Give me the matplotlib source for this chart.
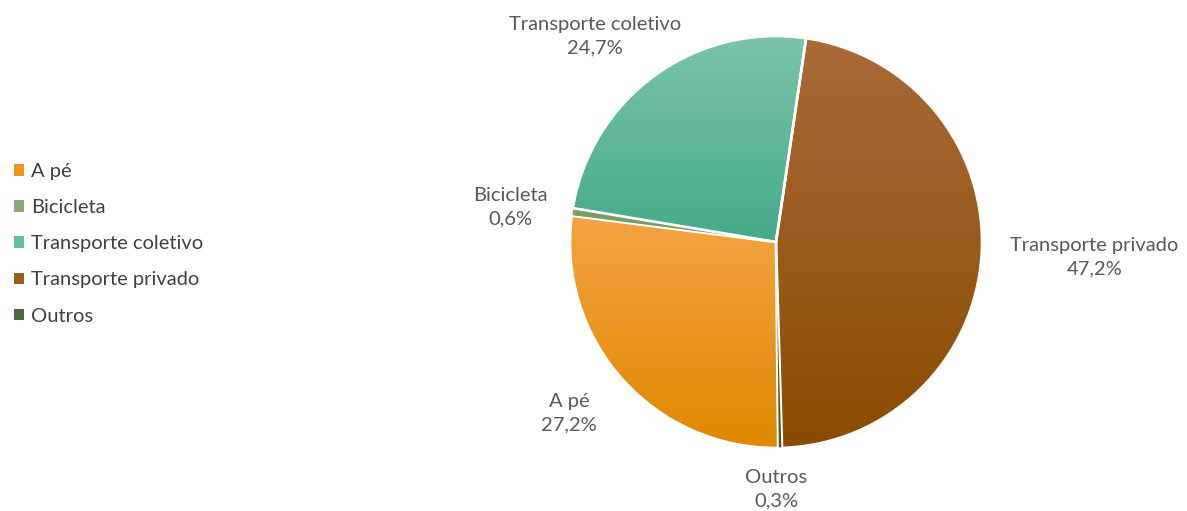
import numpy as np
import matplotlib as mpl
mpl.use("Agg")
from matplotlib import pyplot as plt
from matplotlib.colors import LinearSegmentedColormap

plt.rcParams['font.family'] = ['Lato', 'DejaVu Sans']

# modal split (percent)
categorias = ["A pé", "Bicicleta", "Transporte coletivo", "Transporte privado", "Outros"]
valores = [27.2, 0.6, 24.7, 47.2, 0.3]
rotulos = ["27,2%", "0,6%", "24,7%", "47,2%", "0,3%"]

# light (top) and dark (bottom) shade of each slice
cor_clara = ["#f2a444", "#92b07c", "#7cc4aa", "#a86a38", "#567a4e"]
cor_escura = ["#e08800", "#7c9c64", "#44aa8a", "#8a4c00", "#3e5e38"]
cor_legenda = ["#ef951e", "#8aab74", "#5fbf9f", "#9a5a20", "#4a6a42"]

# label centers in pie units (radius = 1)
pos_rotulo = [(-1.005, -0.83), (-1.29, 0.17), (-0.878, 1.0), (1.546, -0.075), (0.0, -1.20)]

fig = plt.figure(figsize=(11.87, 5.11), dpi=100)
ax = fig.add_axes([0, 0, 1, 1])

R = 206.0
cx, cy = 776.0, 242.0
W, H = 1187.0, 511.0

# "Transporte privado" begins 8.4 deg right of 12 o'clock, slices run clockwise
inicio = 90 - (8.4 - 360 * sum(valores[:3]) / 100)
fatias, _ = ax.pie(valores, startangle=inicio, counterclock=False, colors=cor_legenda,
                   wedgeprops=dict(edgecolor="white", linewidth=1.9))

# vertical gradient inside each slice
for w, c1, c2, v in zip(fatias, cor_clara, cor_escura, valores):
    bb = w.get_path().get_extents(w.get_patch_transform())
    cmap = LinearSegmentedColormap.from_list("g", [c2, c1])
    grad = np.linspace(0, 1, 256).reshape(-1, 1)
    im = ax.imshow(grad, cmap=cmap, origin="lower", aspect="auto",
                   extent=(bb.x0, bb.x1, bb.y0, bb.y1), zorder=w.get_zorder() - 0.1)
    im.set_clip_path(w)
    w.set_facecolor("none")
    w.set_zorder(w.get_zorder() + 0.2)
    if v < 1:
        # thin slices keep their colour visible
        im.set_clip_path(None)
        im.remove()
        w.set_facecolor(c2)
        w.set_linewidth(0.9)

for (x, y), nome, rot in zip(pos_rotulo, categorias, rotulos):
    ax.text(x, y, nome + "\n" + rot, ha="center", va="center", fontsize=14.5,
            color="#595959", linespacing=1.45)

ax.set_xlim(-cx / R, (W - cx) / R)
ax.set_ylim(-(H - cy) / R, cy / R)
ax.set_aspect("auto")
ax.axis("off")

alcas = [plt.Rectangle((0, 0), 1, 1, facecolor=c) for c in cor_legenda]
fig.legend(alcas, categorias, loc="upper left", bbox_to_anchor=(0.0, 1 - 149 / H),
           frameon=False, fontsize=14.5, handlelength=0.5, handleheight=0.5,
           handletextpad=0.35, labelspacing=0.95, borderaxespad=0.3,
           labelcolor="#404040")

fig.savefig("out.png", dpi=100, facecolor="white")
